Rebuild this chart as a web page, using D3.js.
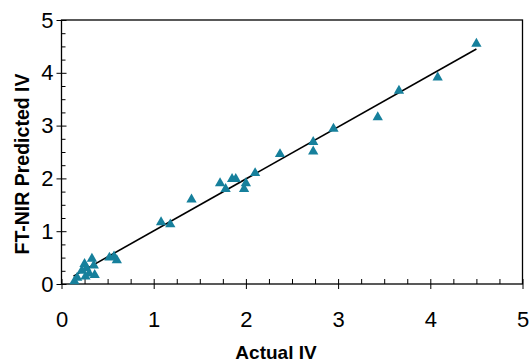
<!DOCTYPE html>
<html>
<head>
<meta charset="utf-8">
<script src="https://cdn.jsdelivr.net/npm/d3@7"></script>
<style>
  body { margin: 0; background: #fff; }
  svg { font-family: "Liberation Sans", Arial, sans-serif; }
  .axis path { display: none; }
  .axis line { stroke: #000; stroke-width: 1; }
  .axis text { font-size: 22px; fill: #000; font-family: "Liberation Sans", Arial, sans-serif; }
</style>
</head>
<body>
<svg width="532" height="364"></svg>
<script>
// actual vs predicted IV
const actualIV = [0.14, 0.17, 0.22, 0.25, 0.27, 0.26, 0.30, 0.33, 0.35, 0.36, 0.52, 0.57, 0.60,
  1.08, 1.18, 1.41, 1.72, 1.78, 1.85, 1.89, 1.98, 2.00, 2.10, 2.37, 2.73, 2.73,
  2.95, 3.43, 3.66, 4.08, 4.50];
const predictedIV = [0.05, 0.12, 0.25, 0.38, 0.30, 0.14, 0.20, 0.48, 0.35, 0.17, 0.50, 0.52, 0.45,
  1.17, 1.13, 1.60, 1.91, 1.80, 1.99, 1.99, 1.80, 1.91, 2.10, 2.46, 2.69, 2.51,
  2.94, 3.16, 3.66, 3.91, 4.55];
// fitted line end points
const fitX = [0.13, 4.50];
const fitY = [0.15, 4.45];

const majorTicks = [0, 1, 2, 3, 4, 5];
const minorTicks = d3.range(0, 5.001, 0.25).filter(v => Math.abs(v - Math.round(v)) > 0.01);

const margin = { left: 61.5, top: 20, right: 9.5, bottom: 80 };
const width = 532 - margin.left - margin.right;
const height = 364 - margin.top - margin.bottom;

const svg = d3.select("svg");
const g = svg.append("g")
  .attr("transform", "translate(" + margin.left + "," + margin.top + ")");

const x = d3.scaleLinear().domain([0, 5]).range([0, width]);
const y = d3.scaleLinear().domain([0, 5]).range([height, 0]);

// x axis: major ticks go out with labels, plus inner half and minor ticks
g.append("g").attr("class", "axis")
  .attr("transform", "translate(0," + height + ")")
  .call(d3.axisBottom(x).tickValues(majorTicks).tickSize(5).tickPadding(22).tickFormat(d3.format("d")));
g.append("g").attr("class", "axis")
  .attr("transform", "translate(0," + height + ")")
  .call(d3.axisTop(x).tickValues(majorTicks).tickSize(5).tickFormat(""));
g.append("g").attr("class", "axis")
  .attr("transform", "translate(0," + height + ")")
  .call(d3.axisTop(x).tickValues(minorTicks).tickSize(5).tickFormat(""));

// y axis
g.append("g").attr("class", "axis")
  .call(d3.axisLeft(y).tickValues(majorTicks).tickSize(5).tickPadding(3).tickFormat(d3.format("d")));
g.append("g").attr("class", "axis")
  .call(d3.axisRight(y).tickValues(majorTicks).tickSize(5).tickFormat(""));
g.append("g").attr("class", "axis")
  .call(d3.axisRight(y).tickValues(minorTicks).tickSize(4).tickFormat(""));

// frame
g.append("rect")
  .attr("width", width).attr("height", height)
  .attr("fill", "none").attr("stroke", "#000").attr("stroke-width", 1.3);

// fit line
g.append("line")
  .attr("x1", x(fitX[0])).attr("y1", y(fitY[0]))
  .attr("x2", x(fitX[1])).attr("y2", y(fitY[1]))
  .attr("stroke", "#000").attr("stroke-width", 1.6);

// points
const pts = actualIV.map((v, i) => ({ a: v, p: predictedIV[i] }));
g.append("g").selectAll("path")
  .data(pts)
  .enter().append("path")
  .attr("d", d3.symbol().type(d3.symbolTriangle).size(46))
  .attr("transform", d => "translate(" + x(d.a) + "," + y(d.p) + ")")
  .attr("fill", "#16809c");

// axis titles
svg.append("text")
  .attr("x", 276).attr("y", 359)
  .attr("text-anchor", "middle")
  .attr("font-size", 19).attr("font-weight", "bold")
  .text("Actual IV");

svg.append("text")
  .attr("transform", "translate(29,164) rotate(-90)")
  .attr("text-anchor", "middle")
  .attr("font-size", 19.5).attr("font-weight", "bold")
  .text("FT-NIR Predicted IV");
</script>
</body>
</html>
